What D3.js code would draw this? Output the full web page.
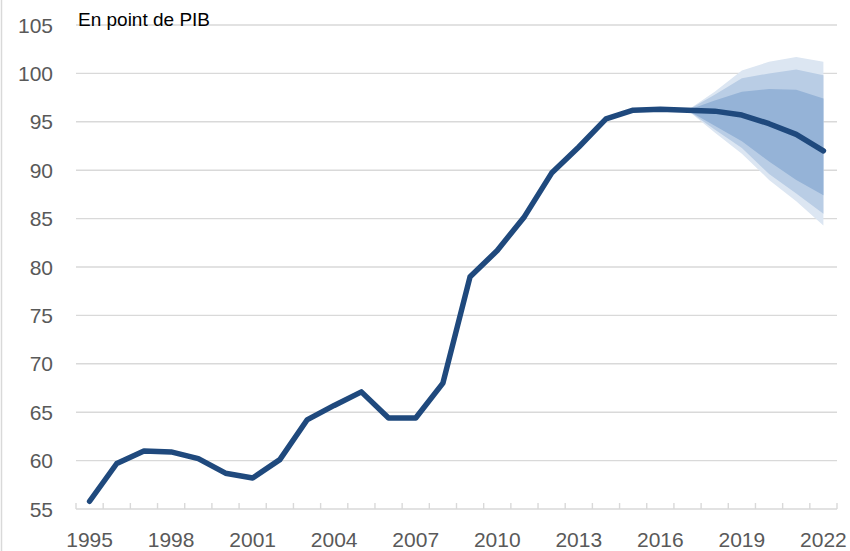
<!DOCTYPE html>
<html lang="fr">
<head>
    <meta charset="utf-8">
    <title>Dette publique en point de PIB</title>
    <style>
        body {
            margin: 0;
            background: #fff;
            font-family: "Liberation Sans", Arial, sans-serif;
        }
        .tick-label {
            fill: #595959;
            font-size: 21px;
        }
    </style>
</head>
<body>
    <div id="chart"></div>

    <script src="https://cdnjs.cloudflare.com/ajax/libs/d3/7.8.5/d3.min.js"></script>
    <script>
        // Data
        const years = d3.range(1995, 2023);
        const debt = [55.8, 59.7, 61.0, 60.9, 60.2, 58.7, 58.2, 60.1, 64.2, 65.7,
                      67.1, 64.4, 64.4, 68.0, 79.0, 81.7, 85.2, 89.7, 92.4, 95.3,
                      96.2, 96.3, 96.2, 96.1, 95.7, 94.8, 93.7, 92.0];

        // fan chart (projection from 2017)
        const fanYears = [2017, 2018, 2019, 2020, 2021, 2022];
        const outerHigh = [96.2, 98.1, 100.3, 101.2, 101.7, 101.2];
        const outerLow  = [96.2, 93.9, 91.7, 89.0, 86.8, 84.3];
        const midHigh   = [96.2, 97.8, 99.5, 100.0, 100.4, 99.8];
        const midLow    = [96.2, 94.2, 92.3, 89.6, 87.6, 85.5];
        const innerHigh = [96.2, 97.2, 98.1, 98.4, 98.3, 97.4];
        const innerLow  = [96.2, 94.6, 93.0, 90.9, 89.0, 87.4];

        const yTicks = [55, 60, 65, 70, 75, 80, 85, 90, 95, 100, 105];
        const xLabels = [1995, 1998, 2001, 2004, 2007, 2010, 2013, 2016, 2019, 2022];

        const width = 850, height = 551;
        const margin = {top: 25, right: 13, bottom: 42, left: 76};

        const svg = d3.select("#chart")
            .append("svg")
            .attr("width", width)
            .attr("height", height);

        // left border of the chart frame
        svg.append("line")
            .attr("x1", 1.5).attr("x2", 1.5)
            .attr("y1", 0).attr("y2", height)
            .attr("stroke", "#d9d9d9")
            .attr("stroke-width", 1.5);

        const x = d3.scaleBand()
            .domain(years)
            .range([margin.left, width - margin.right]);

        const y = d3.scaleLinear()
            .domain([55, 105])
            .range([height - margin.bottom, margin.top]);

        const cx = yr => x(yr) + x.bandwidth() / 2;

        // Gridlines
        svg.append("g")
            .selectAll("line")
            .data(yTicks.filter(d => d > 55))
            .join("line")
            .attr("x1", margin.left)
            .attr("x2", width - margin.right)
            .attr("y1", d => y(d))
            .attr("y2", d => y(d))
            .attr("stroke", "#d9d9d9")
            .attr("stroke-width", 1.4);

        // Y labels
        svg.append("g")
            .selectAll("text")
            .data(yTicks)
            .join("text")
            .attr("class", "tick-label")
            .attr("x", 53)
            .attr("y", d => y(d))
            .attr("dy", "0.36em")
            .attr("text-anchor", "end")
            .text(d => d);

        // X axis line and tick marks (between categories)
        const axisY = y(55);
        svg.append("line")
            .attr("x1", margin.left)
            .attr("x2", width - margin.right)
            .attr("y1", axisY)
            .attr("y2", axisY)
            .attr("stroke", "#d9d9d9")
            .attr("stroke-width", 1.4);

        const boundaries = years.map(d => x(d)).concat([x.range()[1]]);
        svg.append("g")
            .selectAll("line")
            .data(boundaries)
            .join("line")
            .attr("x1", d => d)
            .attr("x2", d => d)
            .attr("y1", axisY - 6)
            .attr("y2", axisY)
            .attr("stroke", "#d9d9d9")
            .attr("stroke-width", 1.4);

        svg.append("g")
            .selectAll("text")
            .data(xLabels)
            .join("text")
            .attr("class", "tick-label")
            .attr("x", d => cx(d))
            .attr("y", 547)
            .attr("text-anchor", "middle")
            .text(d => d);

        // Fan bands
        const bands = [
            {low: outerLow, high: outerHigh, color: "#dce6f2"},
            {low: midLow, high: midHigh, color: "#b9cde5"},
            {low: innerLow, high: innerHigh, color: "#95b3d7"}
        ];

        const area = d3.area()
            .x(d => cx(d.year))
            .y0(d => y(d.low))
            .y1(d => y(d.high));

        bands.forEach(b => {
            const pts = fanYears.map((yr, i) => ({year: yr, low: b.low[i], high: b.high[i]}));
            svg.append("path")
                .datum(pts)
                .attr("fill", b.color)
                .attr("d", area);
        });

        // Main line
        const line = d3.line()
            .x((d, i) => cx(years[i]))
            .y(d => y(d));

        svg.append("path")
            .datum(debt)
            .attr("fill", "none")
            .attr("stroke", "#1f497d")
            .attr("stroke-width", 5.5)
            .attr("stroke-linejoin", "round")
            .attr("stroke-linecap", "round")
            .attr("d", line);

        // Title
        svg.append("text")
            .attr("x", 78)
            .attr("y", 26)
            .attr("fill", "#000")
            .style("font-size", "19px")
            .text("En point de PIB");
    </script>
</body>
</html>
